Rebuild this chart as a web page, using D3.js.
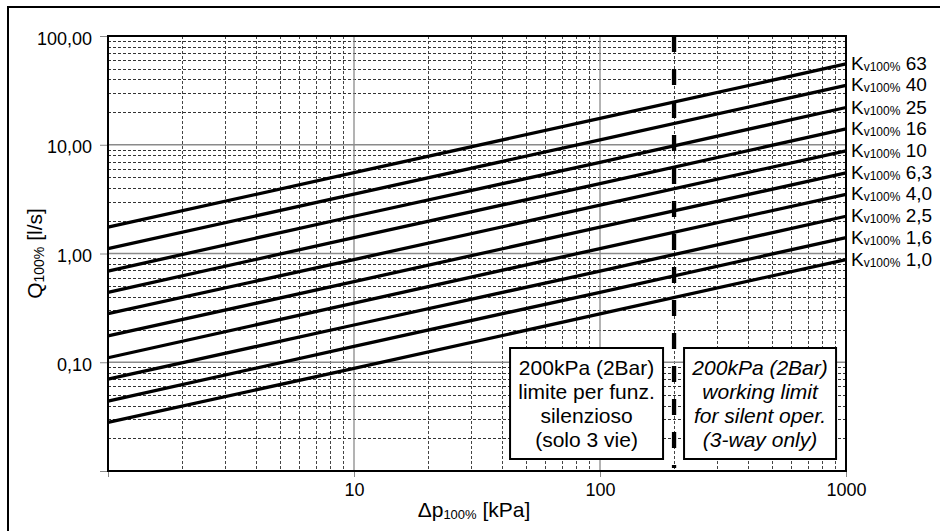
<!DOCTYPE html>
<html>
<head>
<meta charset="utf-8">
<script src="https://cdn.jsdelivr.net/npm/d3@7"></script>
<style>
  body { margin: 0; background: #fff; }
  svg { display: block; font-family: "Liberation Sans", Arial, sans-serif; }
</style>
</head>
<body>
<svg id="chart" width="940" height="531"></svg>
<script>
// ---- data ----
const kvLabels = ["63", "40", "25", "16", "10", "6,3", "4,0", "2,5", "1,6", "1,0"];
const dpPoints = [1, 10, 100, 1000];                       // Δp100% [kPa]
const q_at_1    = [1.75, 1.11, 0.69, 0.44, 0.28, 0.175, 0.11, 0.07, 0.044, 0.028];
const q_at_10   = [5.53, 3.51, 2.20, 1.40, 0.88, 0.55, 0.35, 0.22, 0.14, 0.088];
const q_at_100  = [17.5, 11.1, 6.9, 4.4, 2.78, 1.75, 1.11, 0.69, 0.44, 0.278];
const q_at_1000 = [55.3, 35.1, 22.0, 14.0, 8.8, 5.5, 3.5, 2.2, 1.4, 0.88];
const xTickValues = [1, 10, 100, 1000];
const xTickLabels = ["", "10", "100", "1000"];
const yTickValues = [0.01, 0.1, 1, 10, 100];
const yTickLabels = ["", "0,10", "1,00", "10,00", "100,00"];
const limitDp = 200;
const boxLeftLines  = ["200kPa (2Bar)", "limite per funz.", "silenzioso", "(solo 3 vie)"];
const boxRightLines = ["200kPa (2Bar)", "working limit", "for silent oper.", "(3-way only)"];

// ---- layout ----
const svg = d3.select("#chart");
const L = 108, R = 846, T = 36, B = 471;
const x = d3.scaleLog().domain([1, 1000]).range([L, R]);
const y = d3.scaleLog().domain([0.01, 100]).range([B, T]);

// outer frame
svg.append("rect").attr("x", 8).attr("y", 7).attr("width", 960).attr("height", 560)
  .attr("fill", "none").attr("stroke", "#000").attr("stroke-width", 2);

// grid
const g = svg.append("g");
const minorX = [], minorY = [];
[1, 10, 100].forEach(d => { for (let k = 2; k <= 9; k++) minorX.push(d * k); });
[0.01, 0.1, 1, 10].forEach(d => { for (let k = 2; k <= 9; k++) minorY.push(d * k); });
g.selectAll(".mx").data(minorX).join("line")
  .attr("x1", d => Math.round(x(d)) + 0.5).attr("x2", d => Math.round(x(d)) + 0.5).attr("y1", T).attr("y2", B)
  .attr("stroke", "#444").attr("stroke-width", 1).attr("stroke-dasharray", "3,2");
g.selectAll(".my").data(minorY).join("line")
  .attr("y1", d => Math.round(y(d)) + 0.5).attr("y2", d => Math.round(y(d)) + 0.5).attr("x1", L).attr("x2", R)
  .attr("stroke", "#333").attr("stroke-width", 1).attr("stroke-dasharray", "3,2");
g.selectAll(".Mx").data([10, 100]).join("line")
  .attr("x1", d => x(d)).attr("x2", d => x(d)).attr("y1", T).attr("y2", B)
  .attr("stroke", "#8a8a8a").attr("stroke-width", 1.3);
g.selectAll(".My").data([0.1, 1, 10]).join("line")
  .attr("y1", d => y(d)).attr("y2", d => y(d)).attr("x1", L).attr("x2", R)
  .attr("stroke", "#8a8a8a").attr("stroke-width", 1.3);

// axes
const xAxis = d3.axisBottom(x).tickValues(xTickValues)
  .tickFormat((d, i) => xTickLabels[i]).tickSize(6).tickPadding(6);
const gx = svg.append("g").attr("transform", `translate(0,${B})`).call(xAxis);
gx.select(".domain").remove();
gx.selectAll("line").attr("stroke", "#888");
gx.selectAll("text").attr("font-size", 18).attr("fill", "#000")
  .attr("font-family", "Liberation Sans, Arial, sans-serif");

const yAxis = d3.axisLeft(y).tickValues(yTickValues)
  .tickFormat((d, i) => yTickLabels[i]).tickSize(8).tickPadding(8);
const gy = svg.append("g").attr("transform", `translate(${L},0)`).call(yAxis);
gy.select(".domain").remove();
gy.selectAll("line").attr("stroke", "#888");
gy.selectAll("text").attr("font-size", 18).attr("fill", "#000").attr("dy", "0.45em")
  .attr("font-family", "Liberation Sans, Arial, sans-serif");

// curves
const series = kvLabels.map((lab, i) => ({
  label: lab,
  pts: dpPoints.map((dp, j) => [dp, [q_at_1, q_at_10, q_at_100, q_at_1000][j][i]])
}));
const line = d3.line().x(d => x(d[0])).y(d => y(d[1]));
svg.append("g").selectAll("path").data(series).join("path")
  .attr("d", d => line(d.pts)).attr("fill", "none")
  .attr("stroke", "#000").attr("stroke-width", 3.3);

// 200 kPa limit line
svg.append("line").attr("x1", x(limitDp)).attr("x2", x(limitDp))
  .attr("y1", T).attr("y2", B - 3)
  .attr("stroke", "#000").attr("stroke-width", 4.3).attr("stroke-dasharray", "16,17");

// annotation boxes
function box(x0, x1, lines, italic) {
  svg.append("rect").attr("x", x0).attr("y", 348).attr("width", x1 - x0).attr("height", 111)
    .attr("fill", "#fff").attr("stroke", "#000").attr("stroke-width", 2);
  const t = svg.append("text").attr("text-anchor", "middle").attr("font-size", 21)
    .attr("font-style", italic ? "italic" : "normal");
  lines.forEach((s, i) => {
    t.append("tspan").attr("x", (x0 + x1) / 2).attr("y", 375 + i * 24).text(s);
  });
}
box(x(limitDp) - 164, x(limitDp) - 11, boxLeftLines, false);
box(x(limitDp) + 10, x(limitDp) + 162, boxRightLines, true);

// plot border
svg.append("rect").attr("x", L).attr("y", T).attr("width", R - L).attr("height", B - T)
  .attr("fill", "none").attr("stroke", "#000").attr("stroke-width", 2);

// Kv labels
series.forEach(s => {
  const last = s.pts[s.pts.length - 1];
  const t = svg.append("text").attr("x", R + 5).attr("y", y(last[1]) + 6).attr("font-size", 19);
  t.append("tspan").text("K");
  t.append("tspan").attr("font-size", 12).attr("dy", 1).text("v100%");
  t.append("tspan").attr("dy", -1).text("\u00a0" + s.label);
});

// axis titles
const xt = svg.append("text").attr("x", (L + R) / 2 - 3).attr("y", 517)
  .attr("text-anchor", "middle").attr("font-size", 21);
xt.append("tspan").text("Δp");
xt.append("tspan").attr("font-size", 13).attr("dy", 2).text("100%");
xt.append("tspan").attr("dy", -2).text(" [kPa]");

const yt = svg.append("text").attr("transform", `translate(42,${(T + B) / 2}) rotate(-90)`)
  .attr("text-anchor", "middle").attr("font-size", 21);
yt.append("tspan").text("Q");
yt.append("tspan").attr("font-size", 14).attr("dy", 2).text("100%");
yt.append("tspan").attr("dy", -2).text(" [l/s]");
</script>
</body>
</html>
